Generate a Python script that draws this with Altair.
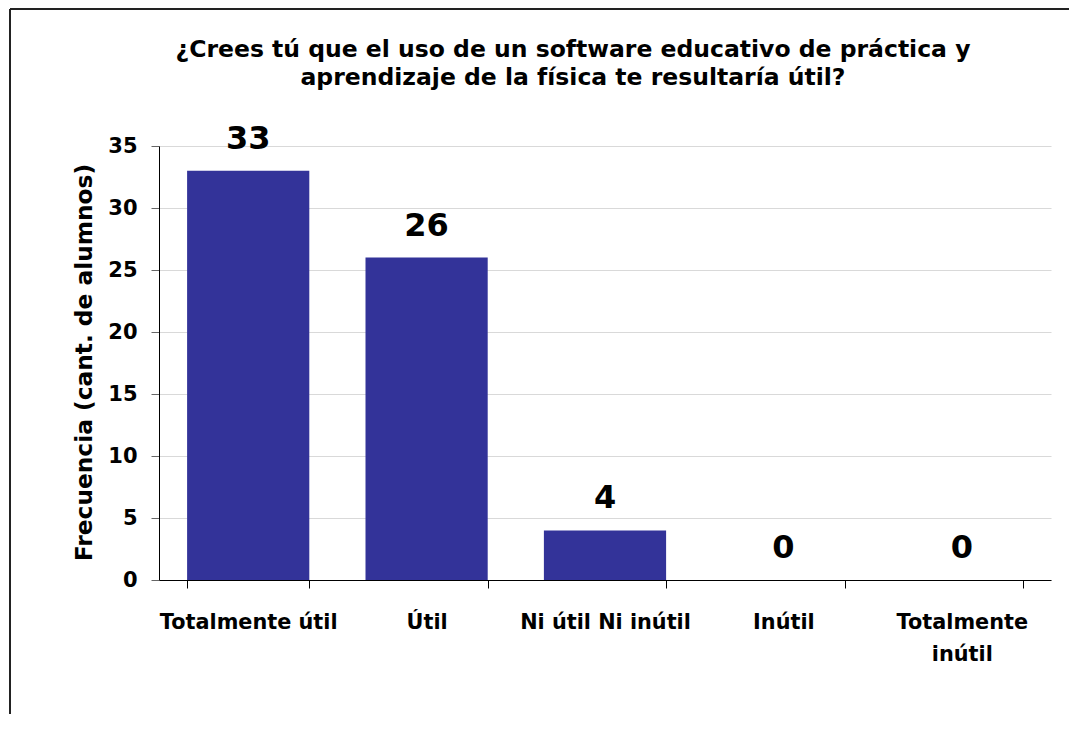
import altair as alt
import pandas as pd

categories = ["Totalmente útil", "Útil", "Ni útil Ni inútil", "Inútil", "Totalmente inútil"]
counts = [33, 26, 4, 0, 0]
y_ticks = [0, 5, 10, 15, 20, 25, 30, 35]
title_lines = [
    "¿Crees tú que el uso de un software educativo de práctica y",
    "aprendizaje de la física te resultaría útil?",
]
y_title = "Frecuencia (cant. de alumnos)"

df = pd.DataFrame({"categoria": categories, "frecuencia": counts})
FONT = "DejaVu Sans"
BAR = "#333399"

x_enc = alt.X(
    "categoria:N",
    sort=categories,
    title=None,
    scale=alt.Scale(paddingInner=0.315, paddingOuter=0.1575),
    axis=alt.Axis(
        labelAngle=0,
        labelFont=FONT,
        labelFontSize=20.8,
        labelFontWeight="bold",
        labelColor="black",
        labelPadding=24,
        labelLimit=400,
        labelOverlap=False,
        labelLineHeight=32,
        labelExpr="datum.value == 'Totalmente inútil' ? ['Totalmente', 'inútil'] : datum.label",
        tickSize=8,
        tickBand="extent",
        tickColor="black",
        domainColor="black",
        grid=False,
    ),
)
y_enc = alt.Y(
    "frecuencia:Q",
    scale=alt.Scale(domain=[0, 35], nice=False),
    axis=alt.Axis(
        values=y_ticks,
        title=y_title,
        titleFont=FONT,
        titleFontSize=23.3,
        titleFontWeight="bold",
        titleColor="black",
        titleAngle=-90,
        titleX=-75,
        titleY=216,
        titleAlign="center",
        titleBaseline="middle",
        labelFont=FONT,
        labelFontSize=21,
        labelFontWeight="bold",
        labelColor="black",
        labelPadding=14,
        tickSize=8,
        tickColor="#666666",
        domainColor="black",
        grid=True,
        gridColor="#d9d9d9",
    ),
)

bars = alt.Chart(df).mark_bar(color=BAR).encode(x=x_enc, y=y_enc)
labels = alt.Chart(df).mark_text(
    dy=-22, baseline="alphabetic", fontSize=32, fontWeight="bold", font=FONT, color="black"
).encode(x=alt.X("categoria:N", sort=categories), y="frecuencia:Q", text="frecuencia:Q")

frame_df = pd.DataFrame({"k": [0]})
top_rule = alt.Chart(frame_df).mark_rule(color="#222222", strokeWidth=2).encode(
    x=alt.value(-149), x2=alt.value(915), y=alt.value(-137)
)
left_rule = alt.Chart(frame_df).mark_rule(color="#222222", strokeWidth=2).encode(
    x=alt.value(-149), y=alt.value(-137), y2=alt.value(576)
)

chart = alt.layer(bars, labels, top_rule, left_rule).properties(
    width=892,
    height=434,
    title=alt.TitleParams(
        text=title_lines,
        font=FONT,
        fontSize=23.5,
        fontWeight="bold",
        color="black",
        anchor="middle",
        dx=-32,
        baseline="alphabetic",
        offset=-100,
        lineHeight=28,
    ),
    autosize=alt.AutoSizeParams(type="none"),
    padding={"left": 151, "top": 138, "right": 18, "bottom": 134},
).configure_view(stroke=None)

chart.save("out.html", embed_options={"renderer": "svg", "actions": False})
